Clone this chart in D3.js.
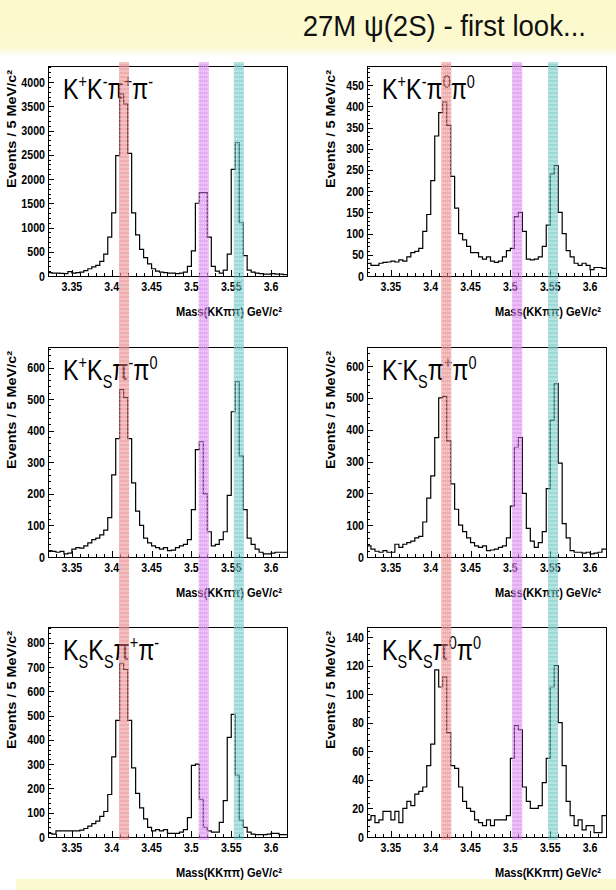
<!DOCTYPE html>
<html><head><meta charset="utf-8">
<script src="https://cdn.jsdelivr.net/npm/d3@7"></script>
<style>body{margin:0;background:#fff;} svg{display:block;}</style>
</head><body>
<svg id="c" width="616" height="890"></svg>
<script>
// ---------- data ----------
const binStart = 3.32, binWidth = 0.005, nBins = 60;
const xDomain = [3.32, 3.62];
const xTickValues = [3.35, 3.4, 3.45, 3.5, 3.55, 3.6];
const xTickLabels = ["3.35", "3.4", "3.45", "3.5", "3.55", "3.6"];
const panelNames = [
  "K^{+}K^{-}#pi^{+}#pi^{-}", "K^{+}K^{-}#pi^{0}#pi^{0}",
  "K^{+}K_{S}#pi^{-}#pi^{0}", "K^{-}K_{S}#pi^{+}#pi^{0}",
  "K_{S}K_{S}#pi^{+}#pi^{-}", "K_{S}K_{S}#pi^{0}#pi^{0}"
];
const yMaxes = [4330, 495, 665, 660, 865, 147];
const yMajorSteps = [500, 50, 100, 100, 100, 20];
const yMinorSteps = [100, 10, 20, 20, 20, 4];

const countsKpKmPipPim = [70,60,60,55,50,90,60,70,80,110, 150,190,220,300,450,800,1300,2480,3750,3550,
  2530,1300,850,550,380,250,150,100,80,70, 60,60,50,60,80,200,520,1500,1720,1720,
  800,200,100,60,120,450,2200,2750,1100,420, 120,80,60,50,40,40,50,40,40,30];
const countsKpKmPi0Pi0 = [30,25,25,30,32,33,35,33,38,35, 45,55,58,65,105,145,225,330,385,410,
  355,235,160,100,85,70,55,55,45,40, 45,35,32,35,45,60,65,140,150,105,
  40,38,40,45,70,120,240,260,150,100, 60,45,30,25,30,25,15,20,20,18];
const countsKpKsPimPi0 = [20,18,15,18,10,12,25,30,28,35, 45,55,60,70,85,125,260,375,530,505,
  375,235,145,100,60,45,35,30,25,30, 20,22,30,35,40,55,150,340,365,200,
  80,35,40,55,80,195,460,555,320,150, 60,40,25,15,10,10,12,15,15,15];
const countsKmKsPipPi0 = [35,25,18,15,20,15,15,40,30,40, 45,50,60,65,110,185,255,375,500,505,
  365,230,150,100,80,60,45,35,30,35, 20,22,25,30,35,60,160,345,375,200,
  90,50,30,45,80,215,430,545,295,105, 60,20,15,15,12,15,10,12,15,25];
const countsKsKsPipPim = [15,12,25,25,25,25,25,25,28,35, 45,55,65,85,105,175,330,480,715,690,
  480,285,180,120,75,40,25,30,25,30, 15,15,15,20,30,80,295,300,155,40,
  25,20,20,60,150,410,505,255,70,40, 20,12,10,10,10,12,15,15,10,10];
const countsKsKsPi0Pi0 = [12,15,10,12,18,18,12,18,10,20, 25,22,30,32,35,50,65,117,105,112,
  73,50,48,35,25,20,18,12,10,8, 12,8,12,12,12,15,55,78,75,35,
  25,20,20,22,38,55,105,120,80,50, 25,15,8,12,5,8,8,3,3,15];
const allCounts = [countsKpKmPipPim, countsKpKmPi0Pi0, countsKpKsPimPi0,
                   countsKmKsPipPi0, countsKsKsPipPim, countsKsKsPi0Pi0];

// highlight bands (mass centres) per column
const bandCentersLeft = [3.4155, 3.5155, 3.5595];
const bandCentersRight = [3.4195, 3.5085, 3.5535];
const bandHalfWidth = 0.0063;
const bandColors = ["#e26a6a", "#cf67ee", "#4fb9b9"];

const titleText = "27M \u03c8(2S) - first look...";
const yAxisTitle = "Events / 5 MeV/c\u00b2";
const xAxisTitle = "Mass(KK\u03c0\u03c0)  GeV/c\u00b2";

// ---------- layout ----------
const svg = d3.select("#c");
const colX = [48, 367], plotW = 239;
const rowY = [66, 347, 627], plotH = 210;
const SX = 0.85; // horizontal text squeeze
const FONT = "'Liberation Sans', Arial, Helvetica, sans-serif";

// background bands
const defs = svg.append("defs");
const g1 = defs.append("linearGradient").attr("id","topg").attr("x1",0).attr("x2",0).attr("y1",0).attr("y2",1);
g1.append("stop").attr("offset","0%").attr("stop-color","#fcf9cc");
g1.append("stop").attr("offset","82%").attr("stop-color","#fcf9d0");
g1.append("stop").attr("offset","100%").attr("stop-color","#ffffff");
svg.append("rect").attr("x",0).attr("y",0).attr("width",616).attr("height",57).attr("fill","url(#topg)");
svg.append("rect").attr("x",16).attr("y",879).attr("width",600).attr("height",11).attr("fill","#fcf9d0");

svg.append("text").attr("transform","translate(586,36) scale(0.92,1)")
  .attr("text-anchor","end").attr("font-family",FONT).attr("font-size",30)
  .attr("fill","#111").text(titleText);

function addRich(g, str, size) {
  const t = g.append("text").attr("font-family", FONT).attr("font-size", size).attr("fill","#000");
  const re = /(\^\{[^}]*\}|_\{[^}]*\}|#pi|[^\^_#]+)/g;
  let m, shift = 0;
  while ((m = re.exec(str)) !== null) {
    let tok = m[1], mode = "n", txt = tok;
    if (tok.startsWith("^{")) { mode = "sup"; txt = tok.slice(2,-1); }
    else if (tok.startsWith("_{")) { mode = "sub"; txt = tok.slice(2,-1); }
    else if (tok === "#pi") { txt = "\u03c0"; }
    const target = mode === "sup" ? -0.36*size : mode === "sub" ? 0.28*size : 0;
    t.append("tspan").attr("dy", target - shift)
      .attr("font-size", mode === "n" ? size : size*0.62).text(txt);
    shift = target;
  }
  return t;
}

allCounts.forEach((counts, p) => {
  const col = p % 2, row = Math.floor(p / 2);
  const x0 = colX[col], y0 = rowY[row];
  const x = d3.scaleLinear().domain(xDomain).range([x0, x0 + plotW]);
  const y = d3.scaleLinear().domain([0, yMaxes[p]]).range([y0 + plotH, y0]);
  const g = svg.append("g");

  // histogram
  const pts = counts.map((v, i) => [x(binStart + i*binWidth), y(v)]);
  pts.push([x(binStart + nBins*binWidth), y(counts[nBins-1])]);
  g.append("path").attr("d", d3.line().curve(d3.curveStepAfter)(pts))
    .attr("fill","none").attr("stroke","#000").attr("stroke-width",1.2);

  // frame
  g.append("rect").attr("x",x0+0.5).attr("y",y0+0.5).attr("width",plotW).attr("height",plotH)
    .attr("fill","none").attr("stroke","#000").attr("stroke-width",1);

  // y ticks (inward)
  const ratio = Math.round(yMajorSteps[p] / yMinorSteps[p]);
  const yMinor = d3.range(0, yMaxes[p] + 1e-9, yMinorSteps[p]);
  g.selectAll(null).data(yMinor).join("line")
    .attr("x1", x0).attr("x2", d => x0 + ((Math.round(d / yMinorSteps[p]) % ratio === 0) ? 6 : 3))
    .attr("y1", d => Math.round(y(d))+0.5).attr("y2", d => Math.round(y(d))+0.5)
    .attr("stroke","#000").attr("stroke-width",1);
  const yMajor = d3.range(0, yMaxes[p] + 1e-9, yMajorSteps[p]);
  g.selectAll(null).data(yMajor).join("text")
    .attr("transform", d => `translate(${x0-3},${y(d)+4.5}) scale(${SX},1)`)
    .attr("text-anchor","end").attr("font-family",FONT).attr("font-weight","bold")
    .attr("font-size",12.5).text(d => d);

  // x ticks
  const xMinor = d3.range(3.32, 3.6201, 0.01);
  g.selectAll(null).data(xMinor).join("line")
    .attr("x1", d => Math.round(x(d))+0.5).attr("x2", d => Math.round(x(d))+0.5)
    .attr("y1", y0 + plotH).attr("y2", d => y0 + plotH - (Math.abs(Math.round(d*100) % 5) === 0 ? 6 : 3))
    .attr("stroke","#000").attr("stroke-width",1);
  g.selectAll(null).data(xTickValues).join("text")
    .attr("transform", (d) => `translate(${x(d)},${y0+plotH+15}) scale(${SX},1)`)
    .attr("text-anchor","middle").attr("font-family",FONT).attr("font-weight","bold")
    .attr("font-size",12.5).text((d, i) => xTickLabels[i]);

  // axis titles
  g.append("text").attr("transform", `translate(${x0-32},${y0+4}) rotate(-90)`)
    .attr("text-anchor","end").attr("font-family",FONT).attr("font-weight","bold")
    .attr("font-size",13).attr("textLength",118).attr("lengthAdjust","spacingAndGlyphs")
    .text(yAxisTitle);
  g.append("text").attr("transform", `translate(${x0+plotW-5},${y0+plotH+40})`)
    .attr("text-anchor","end").attr("font-family",FONT).attr("font-weight","bold")
    .attr("font-size",12.5).attr("textLength",106).attr("lengthAdjust","spacingAndGlyphs")
    .text(xAxisTitle);

  // panel label
  const lg = g.append("g").attr("transform", `translate(${x0+15},${y0+33}) scale(0.78,1)`);
  addRich(lg, panelNames[p], 30);
});

// vertical highlight bands spanning each column
[bandCentersLeft, bandCentersRight].forEach((centers, col) => {
  const x0 = colX[col];
  const x = d3.scaleLinear().domain(xDomain).range([x0, x0 + plotW]);
  centers.forEach((c, k) => {
    const xl = x(c - bandHalfWidth), xr = x(c + bandHalfWidth);
    const bg = svg.append("g");
    bg.append("rect").attr("x", xl).attr("y", 62).attr("width", xr - xl).attr("height", 778)
      .attr("fill", bandColors[k]).attr("fill-opacity", 0.55);
    d3.range(5).forEach(j => {
      const xx = xl + 1 + j * (xr - xl - 2) / 4;
      bg.append("line").attr("x1", xx).attr("x2", xx).attr("y1", 62).attr("y2", 840)
        .attr("stroke", "#fff").attr("stroke-opacity", 0.5).attr("stroke-width", 1)
        .attr("stroke-dasharray", "2,2");
    });
  });
});
</script>
</body></html>
